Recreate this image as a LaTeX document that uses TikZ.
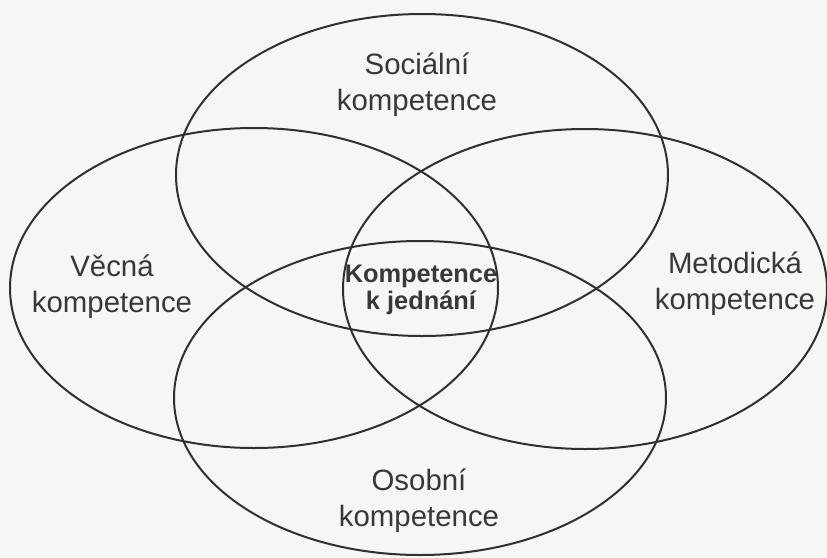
\documentclass[tikz,border=0pt]{standalone}
\usepackage{fontspec}
\setmainfont{Liberation Sans}
\usetikzlibrary{shapes.geometric}
\definecolor{bgc}{HTML}{F6F6F5}
\definecolor{linec}{HTML}{303030}
\definecolor{txtc}{HTML}{383838}
\tikzset{
  ring/.style={ellipse, draw=linec, line width=1pt, inner sep=0pt},
  lbl/.style={align=center, text=txtc, font=\fontsize{14.7}{18}\selectfont, inner sep=0pt},
  core/.style={align=center, text=txtc, font=\bfseries\fontsize{12.7}{13.2}\selectfont, inner sep=0pt}
}
\begin{document}
\begin{tikzpicture}[x=0.5pt,y=-0.5pt]
\fill[bgc] (0,0) rectangle (827,558);
\useasboundingbox (0,0) rectangle (827,558);
\node[ring, minimum width=246pt, minimum height=161pt] (top) at (422,175) {};
\node[ring, minimum width=244pt, minimum height=160pt] (left) at (254,288) {};
\node[ring, minimum width=242pt, minimum height=160pt] (right) at (585,289) {};
\node[ring, minimum width=246pt, minimum height=157pt] (bottom) at (420,398) {};
\node[lbl] (tsoc) at (417,85) {Sociální\\kompetence};
\node[lbl] (tvec) at (112,287) {Věcná\\kompetence};
\node[lbl] (tmet) at (735,284) {Metodická\\kompetence};
\node[lbl] (toso) at (419,501) {Osobní\\kompetence};
\node[core] (tcore) at (421,290) {Kompetence\\k jednání};
\end{tikzpicture}
\end{document}
